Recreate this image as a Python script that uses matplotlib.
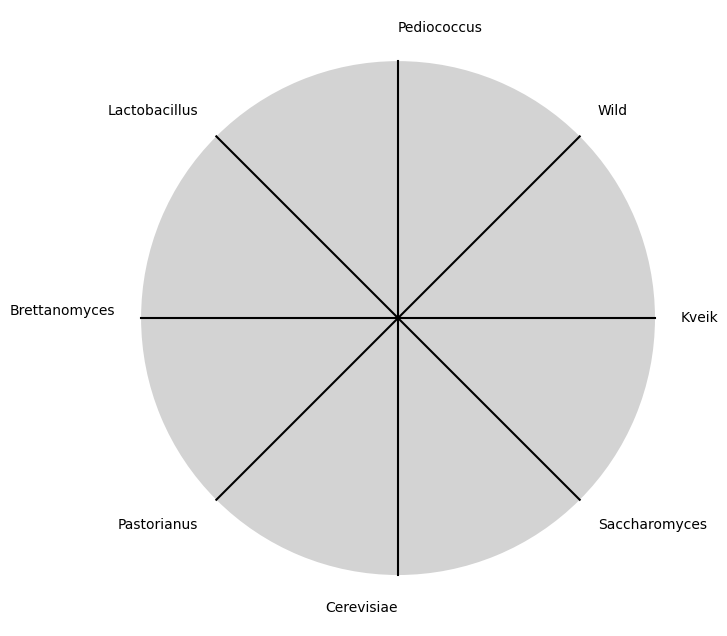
import numpy as np
import matplotlib.pyplot as plt

categories = ['Pediococcus', 'Wild', 'Kveik', 'Saccharomyces',
              'Cerevisiae', 'Pastorianus', 'Brettanomyces', 'Lactobacillus']
h_align = ['left', 'left', 'left', 'left', 'right', 'right', 'right', 'right']
v_align = ['bottom', 'bottom', 'center', 'top', 'top', 'top', 'bottom', 'bottom']

n = len(categories)
angles = np.linspace(0, 2 * np.pi, n, endpoint=False)

fig = plt.figure(figsize=(7.27, 6.36), dpi=100)
ax = fig.add_axes([0.194, 0.0959, 0.707, 0.808], polar=True)
ax.set_theta_offset(np.pi / 2)
ax.set_theta_direction(-1)
ax.set_facecolor('lightgray')
ax.set_ylim(0, 1)

# spokes
for a in angles:
    ax.plot([a, a], [0, 1], color='black', linewidth=1.5, clip_on=False)
ax.grid(False)
ax.spines['polar'].set_visible(False)
ax.set_yticks([])
ax.set_xticks([])

for a, name, ha, va in zip(angles, categories, h_align, v_align):
    ax.text(a, 1.1, name, ha=ha, va=va, fontsize=10)

fig.savefig('out.png', dpi=100)
